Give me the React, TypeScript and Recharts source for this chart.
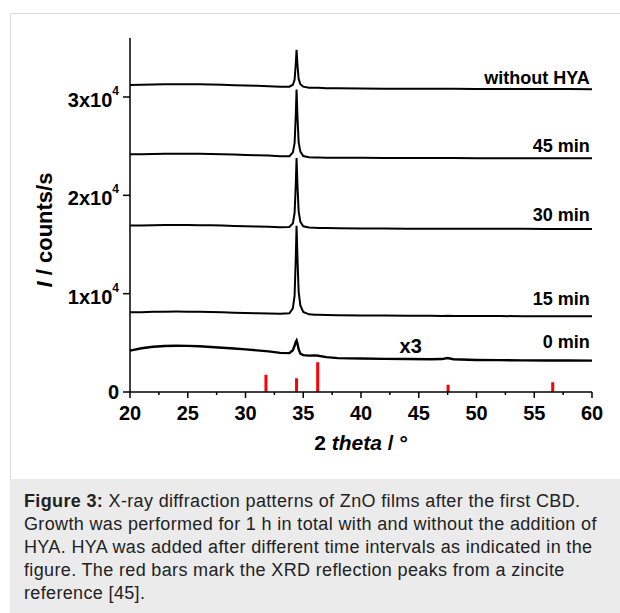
import { LineChart, Line, XAxis, YAxis, ReferenceDot, Label } from 'recharts'

// 2theta grid (deg) — denser around the ZnO (002) reflection
const twoTheta = [
  20, 21, 22, 23, 24, 25, 26, 27, 28, 29, 30, 31, 32, 33, 33.8, 34.1, 34.25, 34.35, 34.42, 34.5,
  34.6, 34.75, 35, 35.5, 36, 36.3, 37, 38, 40, 42, 44, 46, 47, 47.5, 48, 50, 52, 54, 56, 58, 60,
]

// counts/s, curves are stacked with an offset as in the figure
const withoutHya = [
  31230, 31250, 31270, 31290, 31300, 31300, 31290, 31270, 31240, 31200, 31170, 31140, 31100, 31040,
  31050, 31250, 31750, 33300, 34800, 33300, 31850, 31300, 31050, 30950, 30950, 30930, 30900, 30880,
  30860, 30850, 30840, 30830, 30830, 30840, 30830, 30820, 30820, 30820, 30810, 30810, 30800,
]
const min45 = [
  24170, 24190, 24210, 24230, 24240, 24240, 24230, 24200, 24170, 24140, 24110, 24080, 24040, 23980,
  23980, 24350, 25300, 28000, 30750, 28000, 25400, 24450, 24000, 23880, 23860, 23850, 23830, 23820,
  23810, 23800, 23800, 23790, 23790, 23800, 23790, 23780, 23780, 23780, 23770, 23770, 23770,
]
const min30 = [
  16920, 16940, 16960, 16980, 16990, 16980, 16970, 16950, 16920, 16890, 16860, 16830, 16800, 16760,
  16780, 17150, 18200, 21000, 23800, 21000, 18400, 17300, 16850, 16720, 16700, 16690, 16670, 16650,
  16630, 16620, 16610, 16600, 16600, 16610, 16600, 16590, 16590, 16590, 16580, 16580, 16580,
]
const min15 = [
  8100, 8120, 8150, 8170, 8180, 8170, 8160, 8130, 8100, 8070, 8040, 8010, 7980, 7950, 8000, 8500,
  9800, 13500, 16900, 13600, 10200, 8800, 8150, 7900, 7860, 7850, 7820, 7800, 7780, 7770, 7760,
  7750, 7740, 7750, 7740, 7730, 7720, 7710, 7710, 7700, 7700,
]
const min0 = [
  4200, 4450, 4600, 4680, 4710, 4690, 4650, 4580, 4500, 4420, 4330, 4230, 4130, 3980, 3950, 4250,
  4700, 5100, 5250, 4900, 4350, 3900, 3750, 3700, 3720, 3680, 3550, 3450, 3400, 3370, 3350, 3330,
  3350, 3450, 3330, 3260, 3240, 3220, 3210, 3200, 3190,
]

const seriesKeys = ['a', 'b', 'c', 'd', 'e']
const seriesLabels = ['without HYA', '45 min', '30 min', '15 min', '0 min']
const labelLevels = [31320, 24400, 17390, 8850, 4470]

// zincite reference reflections
const zincitePeaks = [31.77, 34.42, 36.25, 47.54, 56.6]
const zinciteHeights = [1760, 1390, 3020, 740, 990]

const xMajorTicks = [20, 25, 30, 35, 40, 45, 50, 55, 60]
const xMinorTicks = [22.5, 27.5, 32.5, 37.5, 42.5, 47.5, 52.5, 57.5]
const yTicks = [0, 10000, 20000, 30000]
const yTickLabels = ['0', '1x10', '2x10', '3x10']

const FONT = '"Liberation Sans", Arial, Helvetica, sans-serif'

const rows = twoTheta.map((x, i) => ({
  x,
  a: withoutHya[i],
  b: min45[i],
  c: min30[i],
  d: min15[i],
  e: min0[i],
}))

const zinciteRows = zincitePeaks.flatMap((p, i) => [
  { x: p, y: 0 },
  { x: p, y: zinciteHeights[i] },
  { x: p, y: null },
])

const allXTicks = [...xMajorTicks, ...xMinorTicks].sort((m, n) => m - n)

function XTick(props: any) {
  const { x, y, payload } = props
  const major = xMajorTicks.includes(payload.value)
  return (
    <g>
      <line x1={x} x2={x} y1={y} y2={y + (major ? 6 : 3)} stroke="#000" strokeWidth={1.5} />
      {major && (
        <text x={x} y={y + 28} textAnchor="middle" fontSize={20} fontWeight="bold" fontFamily={FONT} fill="#000">
          {payload.value}
        </text>
      )}
    </g>
  )
}

function YTick(props: any) {
  const { x, y, payload } = props
  const idx = yTicks.indexOf(payload.value)
  const base = yTickLabels[idx]
  const hasExp = payload.value !== 0
  return (
    <g>
      <line x1={x - 7} x2={x} y1={y} y2={y} stroke="#000" strokeWidth={1.5} />
      <text
        x={x - 11}
        y={y + (hasExp ? 10 : 7)}
        textAnchor="end"
        fontSize={20}
        fontWeight="bold"
        fontFamily={FONT}
        fill="#000"
      >
        <tspan>{base}</tspan>
        {hasExp && (
          <tspan dy={-12} fontSize={12}>
            4
          </tspan>
        )}
      </text>
    </g>
  )
}

function textAt(label: string, anchor: 'end' | 'middle', size: number) {
  return (p: any) => (
    <text x={p.cx} y={p.cy} textAnchor={anchor} fontSize={size} fontWeight="bold" fontFamily={FONT} fill="#000">
      {label}
    </text>
  )
}

function XRDChart() {
  return (
    <LineChart width={620} height={470} data={rows} margin={{ top: 38, right: 28, left: 0, bottom: 0 }}>
      <XAxis
        dataKey="x"
        type="number"
        domain={[20, 60]}
        ticks={allXTicks}
        interval={0}
        height={78}
        tickSize={0}
        tickMargin={0}
        tickLine={false}
        tick={<XTick />}
        axisLine={{ stroke: '#000', strokeWidth: 1.5 }}
      >
        <Label
          content={({ viewBox }: any) => (
            <text
              x={viewBox.x + viewBox.width / 2}
              y={viewBox.y + 58}
              textAnchor="middle"
              fontSize={21}
              fontWeight="bold"
              fontFamily={FONT}
              fill="#000"
            >
              2 <tspan fontStyle="italic">theta</tspan> / °
            </text>
          )}
        />
      </XAxis>
      <YAxis
        type="number"
        domain={[0, 36000]}
        ticks={yTicks}
        interval={0}
        width={130}
        tickSize={0}
        tickMargin={0}
        tickLine={false}
        tick={<YTick />}
        axisLine={{ stroke: '#000', strokeWidth: 1.5 }}
      >
        <Label
          content={({ viewBox }: any) => {
            const cx = viewBox.x + 52
            const cy = viewBox.y + 192
            return (
              <text
                x={cx}
                y={cy}
                transform={`rotate(-90, ${cx}, ${cy})`}
                textAnchor="middle"
                fontSize={22}
                fontWeight="bold"
                fontFamily={FONT}
                fill="#000"
              >
                <tspan fontStyle="italic">I</tspan> / counts/s
              </text>
            )
          }}
        />
      </YAxis>
      {seriesKeys.map((k) => (
        <Line
          key={k}
          dataKey={k}
          type="linear"
          stroke="#000"
          strokeWidth={k === 'e' ? 2.4 : 2}
          dot={false}
          isAnimationActive={false}
        />
      ))}
      <Line
        data={zinciteRows}
        dataKey="y"
        type="linear"
        stroke="#ff0000"
        strokeWidth={3}
        strokeLinecap="butt"
        dot={false}
        connectNulls={false}
        isAnimationActive={false}
      />
      {seriesLabels.map((s, i) => (
        <ReferenceDot key={s} x={59.8} y={labelLevels[i]} r={0} shape={textAt(s, 'end', 18)} />
      ))}
      <ReferenceDot x={44.3} y={3970} r={0} shape={textAt('x3', 'middle', 20)} />
    </LineChart>
  )
}

export default function App() {
  return (
    <div
      style={{
        position: 'absolute',
        left: 0,
        top: 0,
        width: 620,
        height: 613,
        background: '#fff',
        overflow: 'hidden',
      }}
    >
      <div
        style={{
          position: 'absolute',
          left: 10,
          top: 13,
          width: 620,
          height: 620,
          borderTop: '1px solid #dcdcdc',
          borderLeft: '1px solid #dcdcdc',
        }}
      />
      <div style={{ position: 'absolute', left: 0, top: 0 }}>
        <XRDChart />
      </div>
      <div
        style={{
          position: 'absolute',
          left: 10,
          top: 479,
          width: 610,
          height: 134,
          background: '#ebebeb',
          boxSizing: 'border-box',
          padding: '11px 0 0 14px',
          font: `18px/23px ${FONT}`,
          letterSpacing: '0.35px',
          color: '#222',
          whiteSpace: 'nowrap',
        }}
      >
        <b>Figure 3:</b> X-ray diffraction patterns of ZnO films after the first CBD.
        <br />
        Growth was performed for 1 h in total with and without the addition of
        <br />
        HYA. HYA was added after different time intervals as indicated in the
        <br />
        figure. The red bars mark the XRD reflection peaks from a zincite
        <br />
        reference [45].
      </div>
    </div>
  )
}
